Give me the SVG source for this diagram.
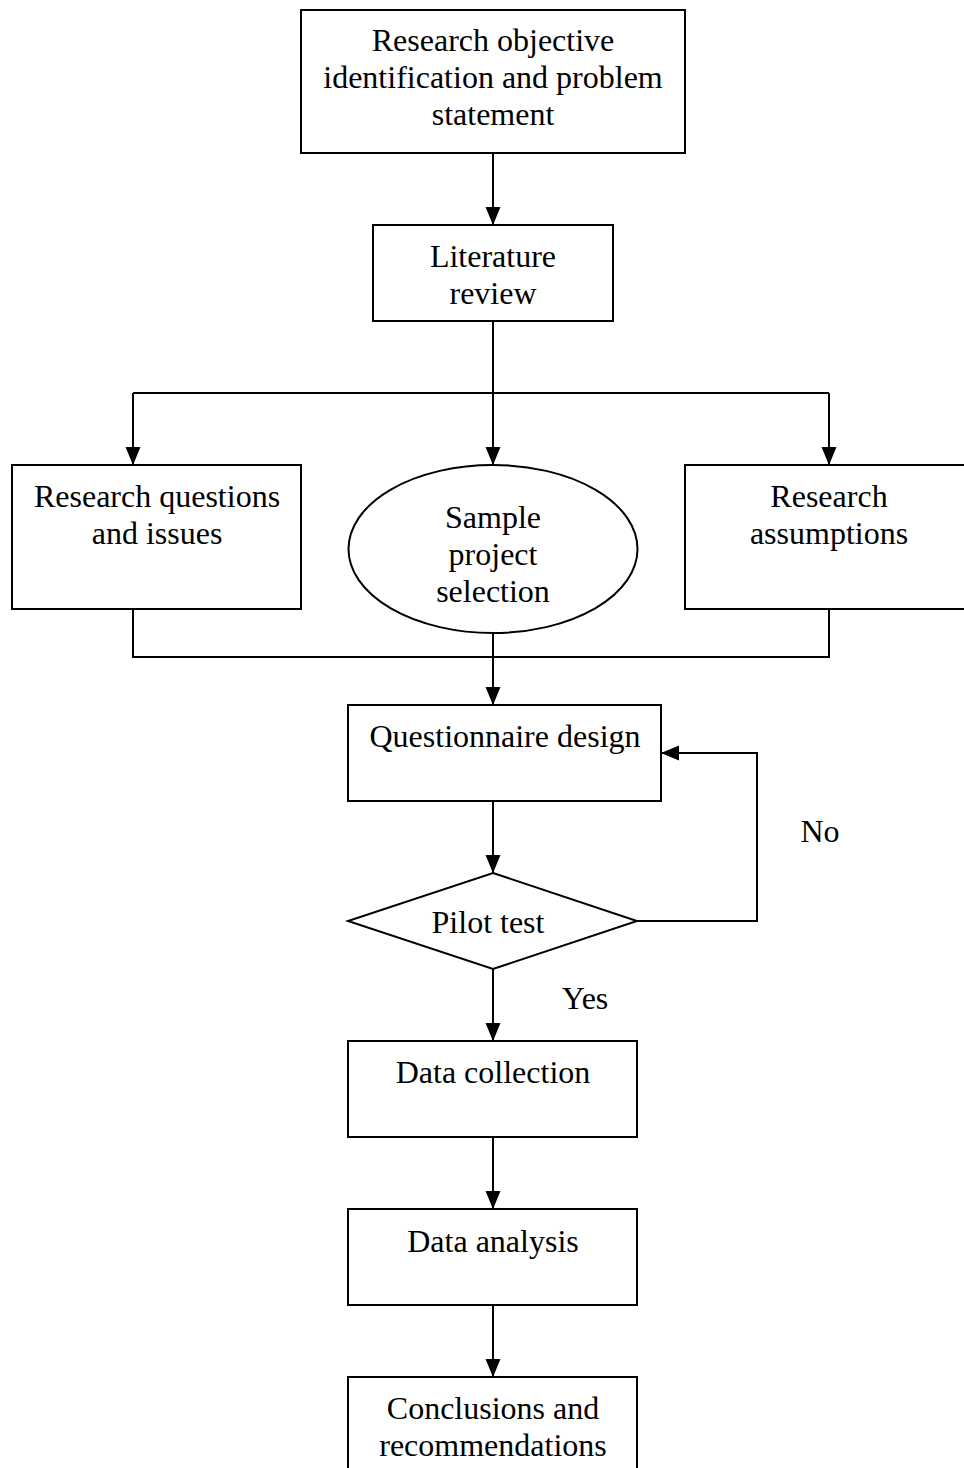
<svg xmlns="http://www.w3.org/2000/svg" width="964" height="1468" viewBox="0 0 964 1468">
<defs>
<marker id="arr" markerUnits="userSpaceOnUse" markerWidth="18" markerHeight="18" viewBox="0 0 18 18" refX="18" refY="9" orient="auto">
<path d="M0,1.5 L18,9 L0,16.5 Z" fill="#000"/>
</marker>
<style>
.s{fill:#fff;stroke:#000;stroke-width:2}
.c{fill:none;stroke:#000;stroke-width:2}
.a{marker-end:url(#arr)}
text{font-family:"Liberation Serif","Times New Roman",serif;font-size:32px;fill:#000;text-anchor:middle}
</style>
</defs>
<rect width="964" height="1468" fill="#fff"/>
<g id="connectors">
<line class="c a" x1="493" y1="153" x2="493" y2="225"/>
<line class="c" x1="493" y1="321" x2="493" y2="393"/>
<polyline class="c" points="133,393 829,393"/>
<line class="c a" x1="133" y1="393" x2="133" y2="465"/>
<line class="c a" x1="493" y1="393" x2="493" y2="465"/>
<line class="c a" x1="829" y1="393" x2="829" y2="465"/>
<polyline class="c" points="133,609 133,657 829,657 829,609"/>
<line class="c a" x1="493" y1="633" x2="493" y2="705"/>
<line class="c a" x1="493" y1="801" x2="493" y2="873"/>
<polyline class="c a" points="637,921 757,921 757,753 661,753"/>
<line class="c a" x1="493" y1="969" x2="493" y2="1041"/>
<line class="c a" x1="493" y1="1137" x2="493" y2="1209"/>
<line class="c a" x1="493" y1="1305" x2="493" y2="1377"/>
<text x="820" y="842">No</text>
<text x="585" y="1009">Yes</text>
</g>
<g id="n1">
<rect class="s" x="301" y="10" width="384" height="143"/>
<text x="493" y="51">Research objective</text>
<text x="493" y="88">identification and problem</text>
<text x="493" y="125">statement</text>
</g>
<g id="n2">
<rect class="s" x="373" y="225" width="240" height="96"/>
<text x="493" y="267">Literature</text>
<text x="493" y="304">review</text>
</g>
<g id="n3">
<rect class="s" x="12" y="465" width="289" height="144"/>
<text x="157" y="507">Research questions</text>
<text x="157" y="544">and issues</text>
</g>
<g id="n4">
<ellipse class="s" cx="493" cy="549" rx="144.5" ry="84"/>
<text x="493" y="528">Sample</text>
<text x="493" y="565">project</text>
<text x="493" y="602">selection</text>
</g>
<g id="n5">
<rect class="s" x="685" y="465" width="290" height="144"/>
<text x="829" y="507">Research</text>
<text x="829" y="544">assumptions</text>
</g>
<g id="n6">
<rect class="s" x="348" y="705" width="313" height="96"/>
<text x="505" y="747">Questionnaire design</text>
</g>
<g id="n7">
<polygon class="s" points="493,873 637,921 493,969 348,921"/>
<text x="488" y="933">Pilot test</text>
</g>
<g id="n8">
<rect class="s" x="348" y="1041" width="289" height="96"/>
<text x="493" y="1083">Data collection</text>
</g>
<g id="n9">
<rect class="s" x="348" y="1209" width="289" height="96"/>
<text x="493" y="1252">Data analysis</text>
</g>
<g id="n10">
<rect class="s" x="348" y="1377" width="289" height="110"/>
<text x="493" y="1419">Conclusions and</text>
<text x="493" y="1456">recommendations</text>
</g>
</svg>
